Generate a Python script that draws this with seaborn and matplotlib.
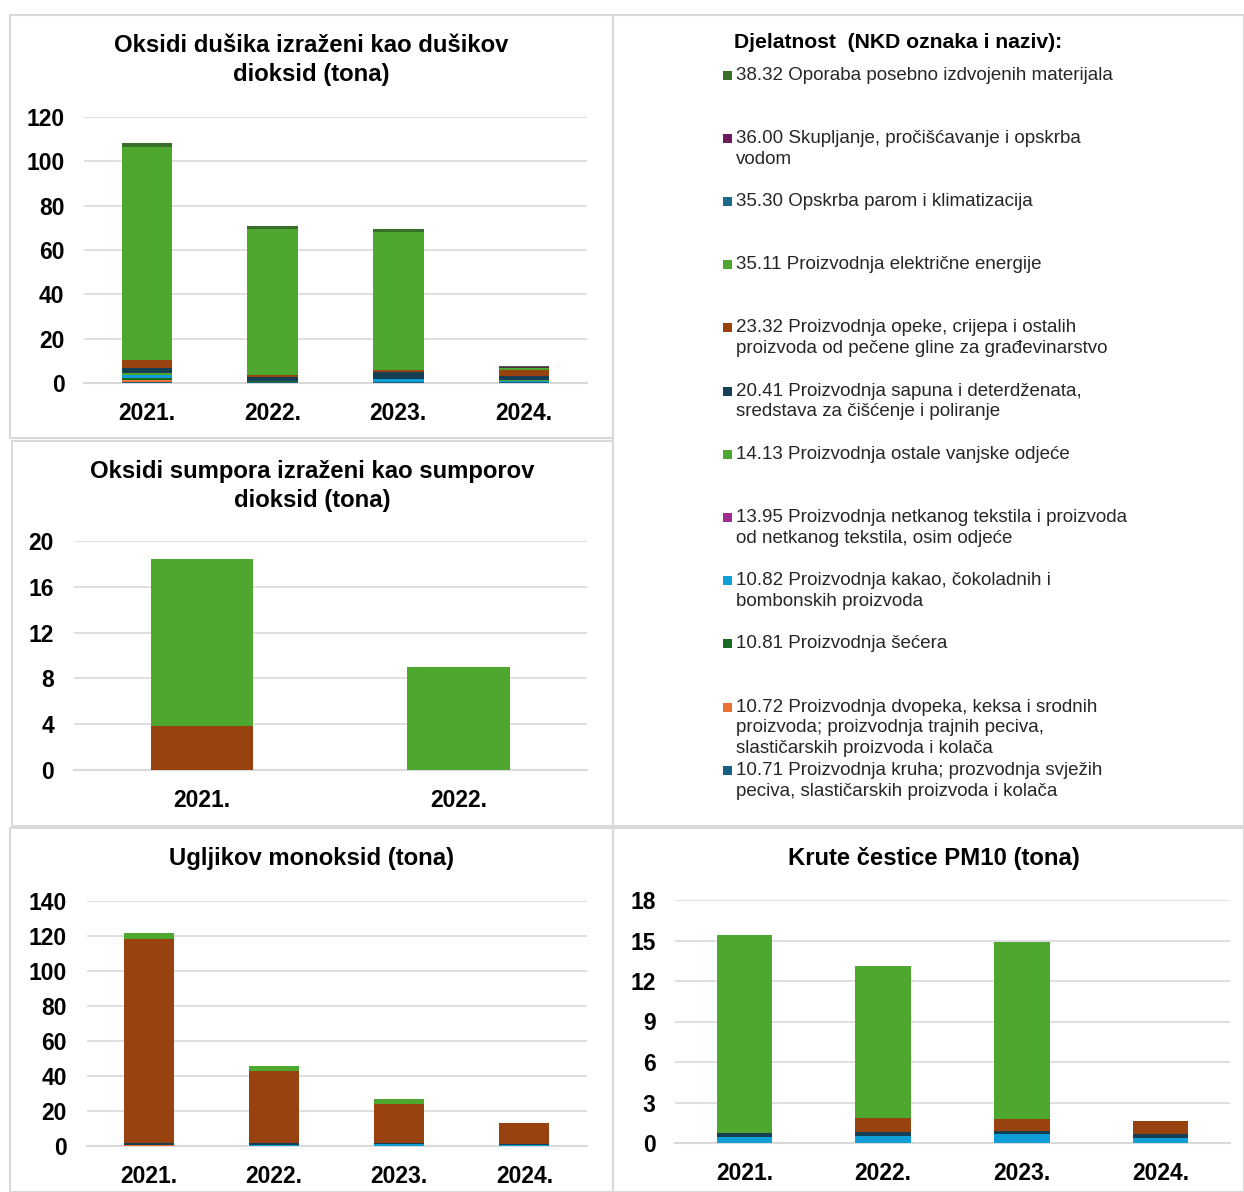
"""Emisije po djelatnostima - četiri složena stupčasta grafa + zajednička legenda."""

import matplotlib
matplotlib.use("Agg")
import matplotlib.pyplot as plt
from matplotlib.patches import Rectangle
import numpy as np
import seaborn as sns

W, H = 1244, 1192

# djelatnosti (NKD) - redoslijed legende, od vrha slaganja prema dnu
CODES = ["38.32", "36.00", "35.30", "35.11", "23.32", "20.41",
         "14.13", "13.95", "10.82", "10.81", "10.72", "10.71"]
LABELS = [
    "38.32 Oporaba posebno izdvojenih materijala",
    "36.00 Skupljanje, pročišćavanje i opskrba\nvodom",
    "35.30 Opskrba parom i klimatizacija",
    "35.11 Proizvodnja električne energije",
    "23.32 Proizvodnja opeke, crijepa i ostalih\nproizvoda od pečene gline za građevinarstvo",
    "20.41 Proizvodnja sapuna i deterdženata,\nsredstava za čišćenje i poliranje",
    "14.13 Proizvodnja ostale vanjske odjeće",
    "13.95 Proizvodnja netkanog tekstila i proizvoda\nod netkanog tekstila, osim odjeće",
    "10.82 Proizvodnja kakao, čokoladnih i\nbombonskih proizvoda",
    "10.81 Proizvodnja šećera",
    "10.72 Proizvodnja dvopeka, keksa i srodnih\nproizvoda; proizvodnja trajnih peciva,\nslastičarskih proizvoda i kolača",
    "10.71 Proizvodnja kruha; prozvodnja svježih\npeciva, slastičarskih proizvoda i kolača",
]
COLORS = ["#38702a", "#6a1c5e", "#1b6a8a", "#4ea72e", "#984210", "#153f55",
          "#4ea72e", "#a02b93", "#0f9ed5", "#196b24", "#e97132", "#156082"]

YEARS4 = ["2021.", "2022.", "2023.", "2024."]
YEARS2 = ["2021.", "2022."]

# oksidi dušika (tona)
NOX = {
    "10.71": [0.5, 0.3, 0.4, 0.5],
    "10.72": [0.9, 0.0, 0.0, 0.0],
    "10.81": [1.0, 0.4, 0.0, 0.0],
    "10.82": [1.0, 0.0, 1.2, 0.2],
    "14.13": [1.0, 0.0, 0.4, 0.8],
    "20.41": [2.3, 1.8, 3.0, 1.8],
    "23.32": [3.6, 1.3, 0.9, 2.7],
    "35.11": [96.0, 65.6, 62.2, 0.6],
    "36.00": [0.0, 0.0, 0.0, 0.6],
    "38.32": [2.0, 1.4, 1.4, 0.6],
}
# oksidi sumpora (tona)
SOX = {
    "23.32": [3.8, 0.0],
    "35.11": [14.6, 9.0],
}
# ugljikov monoksid (tona)
CO = {
    "10.72": [0.5, 0.0, 0.0, 0.0],
    "10.82": [0.0, 0.8, 1.3, 0.3],
    "20.41": [1.5, 0.8, 0.2, 0.8],
    "23.32": [116.3, 41.2, 22.5, 12.0],
    "35.11": [3.4, 2.9, 2.9, 0.0],
}
# krute čestice PM10 (tona)
PM10 = {
    "10.82": [0.45, 0.55, 0.65, 0.4],
    "20.41": [0.3, 0.3, 0.25, 0.3],
    "23.32": [0.0, 1.0, 0.9, 0.9],
    "35.11": [14.65, 11.25, 13.1, 0.0],
}

sns.set_theme(style="white")
plt.rcParams["font.family"] = ["Liberation Sans", "DejaVu Sans"]
plt.rcParams["text.color"] = "black"

GRID = "#d9d9d9"


def px_axes(fig, left, right, top, bottom):
    return fig.add_axes([left / W, 1 - bottom / H, (right - left) / W, (bottom - top) / H])


def stacked(ax, years, data, ymax, step):
    # od najvišeg segmenta prema dnu: kumulativna visina, svaki preko prethodnog
    order = [c for c in CODES if c in data]
    for i, code in enumerate(order):
        cum = np.sum([data[c] for c in order[i:]], axis=0)
        sns.barplot(x=years, y=cum, color=COLORS[CODES.index(code)], width=0.4,
                    saturation=1, linewidth=0, errorbar=None, ax=ax, zorder=3)
    ax.set_ylim(0, ymax)
    ax.set_xlim(-0.5, len(years) - 0.5)
    ax.set_yticks(np.arange(0, ymax + step / 2, step))
    ax.yaxis.grid(True, color=GRID, linewidth=1.2, zorder=0)
    ax.xaxis.grid(False)
    for s in ["top", "right", "left"]:
        ax.spines[s].set_visible(False)
    ax.spines["bottom"].set_color(GRID)
    ax.spines["bottom"].set_linewidth(1.5)
    ax.tick_params(axis="both", length=0, labelsize=16.5, colors="black")
    ax.tick_params(axis="y", pad=14)
    ax.tick_params(axis="x", pad=14)
    for t in ax.get_xticklabels() + ax.get_yticklabels():
        t.set_fontweight("bold")
    ax.set_xlabel("")
    ax.set_ylabel("")
    ax.set_facecolor("none")


fig = plt.figure(figsize=(W / 100, H / 100), dpi=100)

# okviri panela
for (x0, y0, x1, y1) in [(10, 15, 613, 438), (12, 441, 613, 826), (613, 15, 1244, 826),
                         (10, 828, 613, 1192), (613, 828, 1244, 1192)]:
    fig.patches.append(Rectangle((x0 / W, 1 - y1 / H), (x1 - x0) / W, (y1 - y0) / H,
                                 transform=fig.transFigure, fill=False,
                                 edgecolor=GRID, linewidth=1.5))

ax1 = px_axes(fig, 84, 587, 117, 383)
stacked(ax1, YEARS4, NOX, 120, 20)
ax2 = px_axes(fig, 73.5, 587, 541, 770)
stacked(ax2, YEARS2, SOX, 20, 4)
ax3 = px_axes(fig, 86.5, 587, 901, 1146)
stacked(ax3, YEARS4, CO, 140, 20)
ax4 = px_axes(fig, 675, 1230, 900, 1143)
stacked(ax4, YEARS4, PM10, 18, 3)

title_kw = dict(ha="center", va="center", fontsize=17.2, fontweight="bold", linespacing=1.3)
fig.text(311 / W, 1 - 60 / H, "Oksidi dušika izraženi kao dušikov\ndioksid (tona)", **title_kw)
fig.text(312 / W, 1 - 486 / H, "Oksidi sumpora izraženi kao sumporov\ndioksid (tona)", **title_kw)
fig.text(312 / W, 1 - 859 / H, "Ugljikov monoksid (tona)", **title_kw)
fig.text(934 / W, 1 - 859 / H, "Krute čestice PM10 (tona)", **title_kw)

# legenda
fig.text(734 / W, 1 - 43 / H, "Djelatnost  (NKD oznaka i naziv):", ha="left", va="center",
         fontsize=15.2, fontweight="bold")
for i, (lab, col) in enumerate(zip(LABELS, COLORS)):
    yc = 76.5 + i * 63.2
    fig.patches.append(Rectangle((723 / W, 1 - (yc + 3) / H), 9 / W, 9 / H,
                                 transform=fig.transFigure, facecolor=col, edgecolor="none"))
    fig.text(736 / W, 1 - (yc - 10) / H, lab, ha="left", va="top", fontsize=13.5,
             color="#262626", linespacing=1.3)

fig.savefig("out.png", dpi=100)
